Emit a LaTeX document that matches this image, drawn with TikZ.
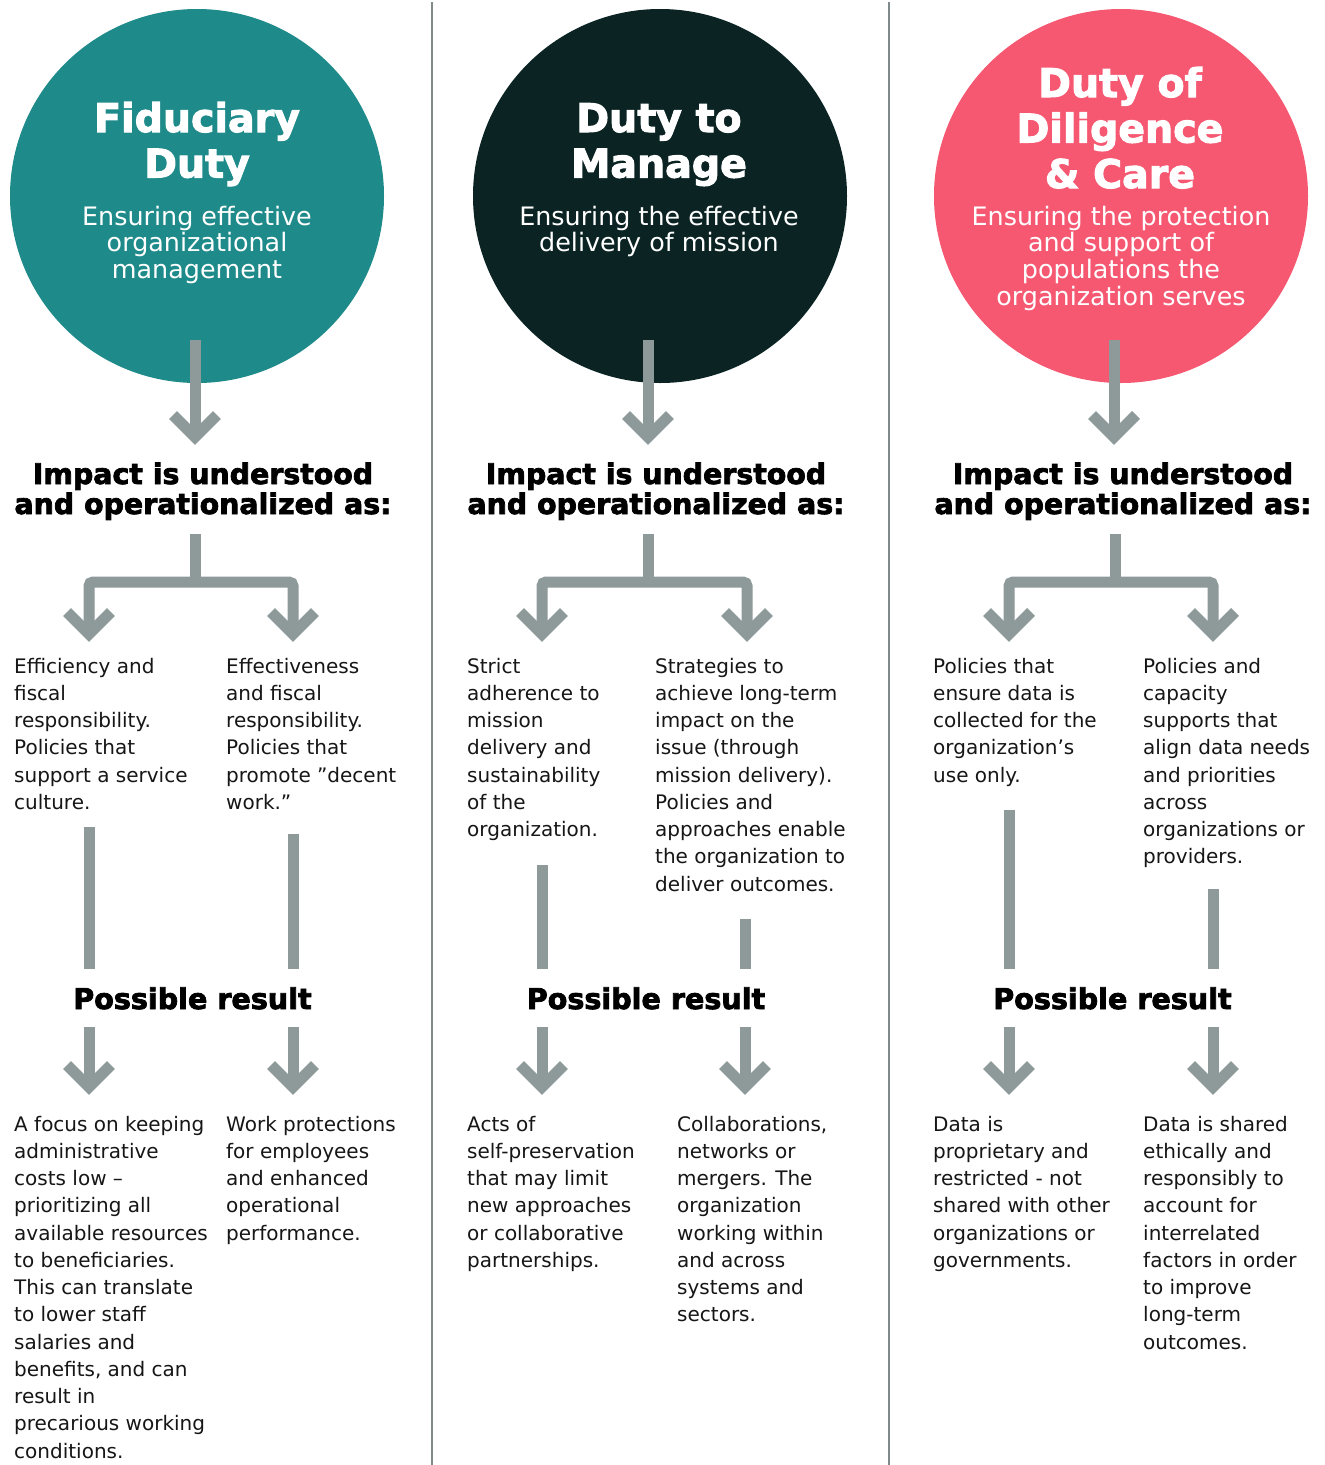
\documentclass[tikz,border=0pt]{standalone}
\usepackage{fontspec}
\setmainfont{DejaVu Sans}
\newfontfamily\heavyfont{DejaVu Sans}[FakeBold=2.6]
\definecolor{teal1}{RGB}{30,138,138}
\definecolor{dark1}{RGB}{11,35,35}
\definecolor{pink1}{RGB}{246,88,114}
\definecolor{arrowgray}{RGB}{142,153,153}
\definecolor{divgray}{RGB}{128,138,138}
\definecolor{bodytext}{RGB}{22,22,22}
\begin{document}
\begin{tikzpicture}[x=1pt,y=-1pt,
  conn/.style={draw=arrowgray, line width=11pt},
  chevline/.style={draw=arrowgray, line width=11pt, miter limit=10},
  pics/chev/.style={code={\draw[chevline] (-22,-22) -- (0,0) -- (22,-22);}},
  disc/.style={circle, minimum size=374pt, inner sep=0pt, draw=none},
  ctitle/.style={anchor=base, inner sep=0pt, align=center, text=white, font=\heavyfont\bfseries\fontsize{39.5}{45.5}\selectfont},
  csub/.style={anchor=base, inner sep=0pt, align=center, text=white, font=\fontsize{25.4}{26.9}\selectfont},
  heading/.style={anchor=base, inner sep=0pt, align=center, text=black, font=\heavyfont\bfseries\fontsize{28.4}{30}\selectfont},
  result/.style={anchor=base, inner sep=0pt, text=black, font=\heavyfont\bfseries\fontsize{28.6}{30}\selectfont},
  body/.style={anchor=base west, inner sep=0pt, align=left, text=bodytext, font=\fontsize{20}{27.25}\selectfont},
  divider/.style={draw=divgray, line width=1.8pt}
]
\useasboundingbox (0,0) rectangle (1325,1465);
\fill[white] (0,0) rectangle (1325,1465);

% dividers
\coordinate (d1a) at (432,2); \coordinate (d1b) at (432,1465);
\coordinate (d2a) at (889,2); \coordinate (d2b) at (889,1465);
\draw[divider] (d1a) -- (d1b);
\draw[divider] (d2a) -- (d2b);

% (multi-line nodes are placed by the baseline of their LAST line)

% ================= Column 1 =================
\node[disc, fill=teal1] (c1) at (197,196) {};
\node[ctitle] (c1t) at (197,177.5) {Fiduciary\\Duty};
\node[csub] (c1s) at (197,278.8) {Ensuring effective\\organizational\\management};
\coordinate (c1a) at (195,340);
\coordinate (c1v) at (195,437);
\draw[conn] (c1a) -- (c1v);
\pic at (c1v) {chev};
\node[heading] (h1) at (203,514) {Impact is understood\\and operationalized as:};
\coordinate (h1s) at (195,534);
\coordinate (h1j) at (195,582);
\coordinate (b1L) at (89,634);
\coordinate (b1R) at (293,634);
\draw[conn] (h1s) -- (h1j);
\draw[conn, rounded corners=4pt] (b1L) |- (h1j) -| (b1R);
\pic at (b1L) {chev};
\pic at (b1R) {chev};
\node[body] (t1L) at (14,809.25) {Efficiency and\\fiscal\\responsibility.\\Policies that\\support a service\\culture.};
\node[body] (t1R) at (226,809.25) {Effectiveness\\and fiscal\\responsibility.\\Policies that\\promote ”decent\\work.”};
\coordinate (l1La) at (89,827); \coordinate (l1Lb) at (89,969);
\coordinate (l1Ra) at (293,834); \coordinate (l1Rb) at (293,969);
\draw[conn] (l1La) -- (l1Lb);
\draw[conn] (l1Ra) -- (l1Rb);
\node[result] (r1) at (192.5,1009) {Possible result};
\coordinate (p1La) at (89,1027); \coordinate (p1Lv) at (89,1087);
\coordinate (p1Ra) at (293,1027); \coordinate (p1Rv) at (293,1087);
\draw[conn] (p1La) -- (p1Lv);
\draw[conn] (p1Ra) -- (p1Rv);
\pic at (p1Lv) {chev};
\pic at (p1Rv) {chev};
\node[body] (u1L) at (14,1458) {A focus on keeping\\administrative\\costs low –\\prioritizing all\\available resources\\to beneficiaries.\\This can translate\\to lower staff\\salaries and\\benefits, and can\\result in\\precarious working\\conditions.};
\node[body] (u1R) at (226,1240) {Work protections\\for employees\\and enhanced\\operational\\performance.};

% ================= Column 2 =================
\node[disc, fill=dark1] (c2) at (660,196) {};
\node[ctitle] (c2t) at (659,177.5) {Duty to\\Manage};
\node[csub] (c2s) at (659,251.9) {Ensuring the effective\\delivery of mission};
\coordinate (c2a) at (648,340);
\coordinate (c2v) at (648,437);
\draw[conn] (c2a) -- (c2v);
\pic at (c2v) {chev};
\node[heading] (h2) at (656,514) {Impact is understood\\and operationalized as:};
\coordinate (h2s) at (648,534);
\coordinate (h2j) at (648,582);
\coordinate (b2L) at (542,634);
\coordinate (b2R) at (747,634);
\draw[conn] (h2s) -- (h2j);
\draw[conn, rounded corners=4pt] (b2L) |- (h2j) -| (b2R);
\pic at (b2L) {chev};
\pic at (b2R) {chev};
\node[body] (t2L) at (467,836.5) {Strict\\adherence to\\mission\\delivery and\\sustainability\\of the\\organization.};
\node[body] (t2R) at (655,891) {Strategies to\\achieve long-term\\impact on the\\issue (through\\mission delivery).\\Policies and\\approaches enable\\the organization to\\deliver outcomes.};
\coordinate (l2La) at (542,865); \coordinate (l2Lb) at (542,969);
\coordinate (l2Ra) at (745,919); \coordinate (l2Rb) at (745,969);
\draw[conn] (l2La) -- (l2Lb);
\draw[conn] (l2Ra) -- (l2Rb);
\node[result] (r2) at (646,1009) {Possible result};
\coordinate (p2La) at (542,1027); \coordinate (p2Lv) at (542,1087);
\coordinate (p2Ra) at (745,1027); \coordinate (p2Rv) at (745,1087);
\draw[conn] (p2La) -- (p2Lv);
\draw[conn] (p2Ra) -- (p2Rv);
\pic at (p2Lv) {chev};
\pic at (p2Rv) {chev};
\node[body] (u2L) at (467,1267.25) {Acts of\\self-preservation\\that may limit\\new approaches\\or collaborative\\partnerships.};
\node[body] (u2R) at (677,1321.75) {Collaborations,\\networks or\\mergers. The\\organization\\working within\\and across\\systems and\\sectors.};

% ================= Column 3 =================
\node[disc, fill=pink1] (c3) at (1121,196) {};
\node[ctitle] (c3t) at (1120,188) {Duty of\\Diligence\\\& Care};
\node[csub] (c3s) at (1121,305.7) {Ensuring the protection\\and support of\\populations the\\organization serves};
\coordinate (c3a) at (1114,340);
\coordinate (c3v) at (1114,437);
\draw[conn] (c3a) -- (c3v);
\pic at (c3v) {chev};
\node[heading] (h3) at (1123,514) {Impact is understood\\and operationalized as:};
\coordinate (h3s) at (1115,534);
\coordinate (h3j) at (1115,582);
\coordinate (b3L) at (1009,634);
\coordinate (b3R) at (1213,634);
\draw[conn] (h3s) -- (h3j);
\draw[conn, rounded corners=4pt] (b3L) |- (h3j) -| (b3R);
\pic at (b3L) {chev};
\pic at (b3R) {chev};
\node[body] (t3L) at (933,782) {Policies that\\ensure data is\\collected for the\\organization’s\\use only.};
\node[body] (t3R) at (1143,863.75) {Policies and\\capacity\\supports that\\align data needs\\and priorities\\across\\organizations or\\providers.};
\coordinate (l3La) at (1009,810); \coordinate (l3Lb) at (1009,969);
\coordinate (l3Ra) at (1213,889); \coordinate (l3Rb) at (1213,969);
\draw[conn] (l3La) -- (l3Lb);
\draw[conn] (l3Ra) -- (l3Rb);
\node[result] (r3) at (1112.5,1009) {Possible result};
\coordinate (p3La) at (1009,1027); \coordinate (p3Lv) at (1009,1087);
\coordinate (p3Ra) at (1213,1027); \coordinate (p3Rv) at (1213,1087);
\draw[conn] (p3La) -- (p3Lv);
\draw[conn] (p3Ra) -- (p3Rv);
\pic at (p3Lv) {chev};
\pic at (p3Rv) {chev};
\node[body] (u3L) at (933,1267.25) {Data is\\proprietary and\\restricted - not\\shared with other\\organizations or\\governments.};
\node[body] (u3R) at (1143,1349) {Data is shared\\ethically and\\responsibly to\\account for\\interrelated\\factors in order\\to improve\\long-term\\outcomes.};
\end{tikzpicture}
\end{document}
